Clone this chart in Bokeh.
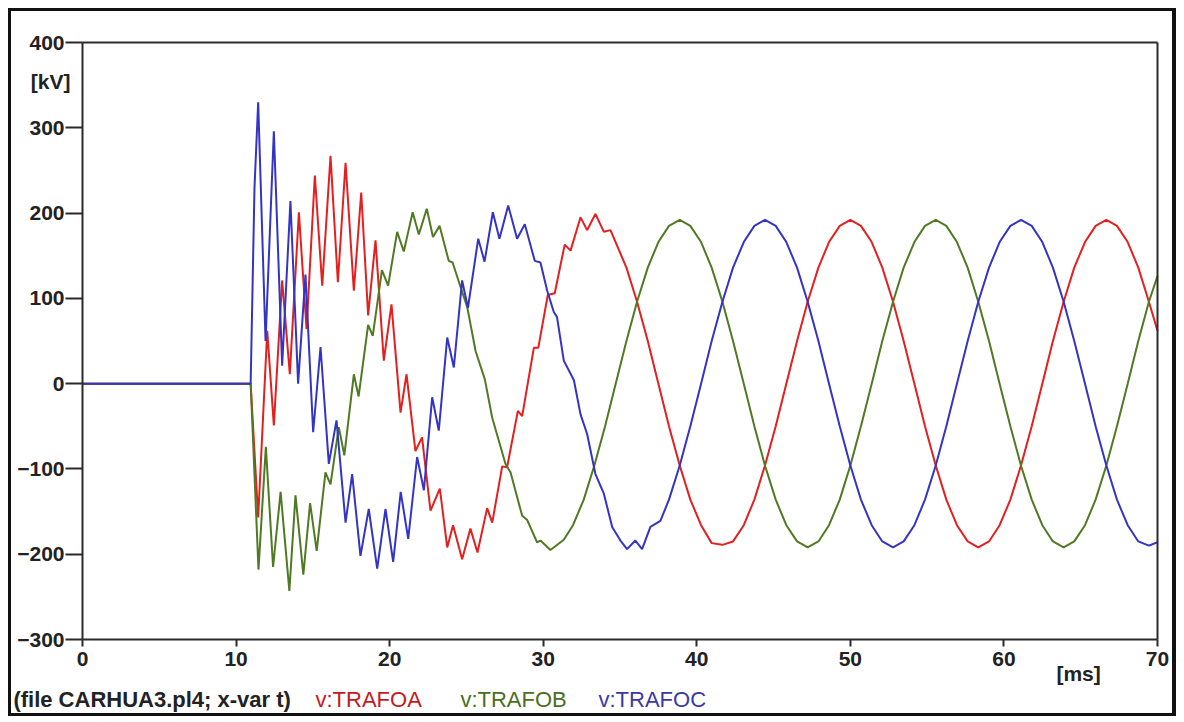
from bokeh.plotting import figure
from bokeh.models import FixedTicker, Label, LinearAxis, Range1d
from bokeh.embed import file_html
from bokeh.resources import INLINE

# ---- ATP output: phase voltages at transformer terminals, time in ms, voltage in kV ----
t_a = [0, 10.95, 11.44, 12.03, 12.46, 13.0, 13.5, 14.09, 14.59, 15.13, 15.61, 16.15, 16.63,
       17.13, 17.67, 18.15, 18.6, 19.08, 19.62, 20.12, 20.71, 21.1, 21.68, 22.11, 22.66, 23.27,
       23.75, 24.13, 24.72, 25.26, 25.72, 26.35, 26.68, 27.33, 27.65, 28.35, 28.63, 29.39, 29.68,
       30.3, 30.75, 31.4, 31.78, 32.43, 32.86, 33.4, 33.95, 34.38,
       35.42, 36.11, 36.81, 37.50, 38.19, 38.89, 39.58, 40.28, 40.97, 41.67, 42.36, 43.06, 43.75,
       44.44, 45.14, 45.83, 46.53, 47.22, 47.92, 48.61, 49.31, 50.00, 50.69, 51.39, 52.08, 52.78,
       53.47, 54.17, 54.86, 55.56, 56.25, 56.94, 57.64, 58.33, 59.03, 59.72, 60.42, 61.11, 61.81,
       62.50, 63.19, 63.89, 64.58, 65.28, 65.97, 66.67, 67.36, 68.06, 68.75, 69.44, 70.00]
v_trafoa = [0, 0, -157, 62, -49, 121, 11, 201, 64, 244, 115, 267, 119,
            259, 109, 224, 80, 168, 27, 93, -34, 11, -79, -63, -149, -123,
            -192, -166, -206, -170, -198, -146, -163, -97, -98, -32, -38, 42, 42,
            104, 106, 163, 156, 195, 180, 199, 178, 180,
            136, 96, 50, 0, -50, -96, -136, -166, -187, -189, -185, -166, -136,
            -96, -50, 0, 50, 96, 136, 166, 185, 192, 185, 166, 136, 96,
            50, 0, -50, -96, -136, -166, -185, -192, -185, -166, -136, -96, -50,
            0, 50, 96, 136, 166, 185, 192, 185, 166, 136, 96, 62]

t_b = [0, 10.95, 11.46, 11.94, 12.41, 12.9, 13.47, 13.87, 14.38, 14.82, 15.25, 15.82, 16.15,
       16.69, 17.05, 17.67, 17.98, 18.6, 18.9, 19.5, 19.9, 20.49, 20.92, 21.5, 21.9, 22.42,
       22.82, 23.25, 23.85, 24.1, 24.66, 25.05, 25.6, 26.2, 26.68, 27.54, 27.87, 28.63, 28.96,
       29.6, 29.82, 30.47, 31.34,
       31.94, 32.64, 33.33, 34.03, 34.72, 35.42, 36.11, 36.81, 37.50, 38.19, 38.89, 39.58, 40.28,
       40.97, 41.67, 42.36, 43.06, 43.75, 44.44, 45.14, 45.83, 46.53, 47.22, 47.92, 48.61, 49.31,
       50.00, 50.69, 51.39, 52.08, 52.78, 53.47, 54.17, 54.86, 55.56, 56.25, 56.94, 57.64, 58.33,
       59.03, 59.72, 60.42, 61.11, 61.81, 62.50, 63.19, 63.89, 64.58, 65.28, 65.97, 66.67, 67.36,
       68.06, 68.75, 69.44, 70.00]
v_trafob = [0, 0, -218, -74, -215, -127, -243, -131, -224, -140, -196, -104, -118,
            -51, -84, 11, -15, 69, 56, 133, 115, 178, 155, 201, 175, 205,
            172, 185, 144, 142, 111, 90, 38, 5, -40, -94, -104, -155, -160,
            -186, -184, -195, -183,
            -166, -136, -96, -50, 0, 50, 96, 136, 166, 185, 192, 185, 166,
            136, 96, 50, 0, -50, -96, -136, -166, -185, -192, -185, -166, -136,
            -96, -50, 0, 50, 96, 136, 166, 185, 192, 185, 166, 136, 96,
            50, 0, -50, -96, -136, -166, -185, -192, -185, -166, -136, -96, -50,
            0, 50, 96, 126]

t_c = [0, 10.95, 11.2, 11.44, 11.92, 12.46, 13.0, 13.54, 14.04, 14.52, 15.02, 15.5, 16.04,
       16.54, 17.13, 17.56, 18.1, 18.64, 19.19, 19.73, 20.23, 20.72, 21.21, 21.79, 22.23, 22.77,
       23.2, 23.75, 24.18, 24.72, 25.1, 25.77, 26.18, 26.72, 27.15, 27.72, 28.3, 28.8, 29.45,
       29.82, 30.26, 30.69, 30.9, 31.34, 32.0, 32.43, 32.86, 33.4, 33.95, 34.49, 35.03, 35.46,
       36.0, 36.44, 36.98, 37.63,
       38.19, 38.89, 39.58, 40.28, 40.97, 41.67, 42.36, 43.06, 43.75, 44.44, 45.14, 45.83, 46.53,
       47.22, 47.92, 48.61, 49.31, 50.00, 50.69, 51.39, 52.08, 52.78, 53.47, 54.17, 54.86, 55.56,
       56.25, 56.94, 57.64, 58.33, 59.03, 59.72, 60.42, 61.11, 61.81, 62.50, 63.19, 63.89, 64.58,
       65.28, 65.97, 66.67, 67.36, 68.06, 68.75, 69.44, 70.00]
v_trafoc = [0, 0, 230, 330, 50, 296, 21, 214, 0, 128, -57, 43, -94,
            -43, -163, -106, -202, -147, -217, -147, -209, -127, -182, -86, -125, -16,
            -55, 54, 19, 121, 89, 170, 143, 201, 170, 209, 170, 187, 144,
            142, 109, 84, 78, 27, 4, -36, -59, -106, -129, -168, -184, -194,
            -184, -194, -168, -161,
            -136, -96, -50, 0, 50, 96, 136, 166, 185, 192, 185, 166, 136,
            96, 50, 0, -50, -96, -136, -166, -185, -192, -185, -166, -136, -96,
            -50, 0, 50, 96, 136, 166, 185, 192, 185, 166, 136, 96, 50,
            0, -50, -96, -136, -166, -185, -190, -186]

x_ticks = [0, 10, 20, 30, 40, 50, 60, 70]
y_ticks = [-300, -200, -100, 0, 100, 200, 300, 400]
x_lim = (0, 70)
y_lim = (-300, 400)

RED = "#e3201f"
GREEN = "#4f7a22"
BLUE = "#3434c4"
INK = "#2b2b2b"
TXT = "#222222"
FONT = "Liberation Sans"

# The frame fills the whole bordered sheet; the plot box itself is drawn by
# axes pinned at the data limits (fixed_location), so margin texts stay visible.
p = figure(width=1168, height=708,
           x_range=Range1d(-4.623, 71.433), y_range=Range1d(-393.8, 436.35),
           output_backend="svg", toolbar_location=None,
           min_border_left=0, min_border_right=0, min_border_top=0, min_border_bottom=0)
p.styles = {"margin": "8px 0 0 8px", "border": "3px solid #111111",
            "border-right-width": "4px"}
p.background_fill_color = "white"
p.border_fill_color = "white"
p.outline_line_color = None
p.xgrid.visible = False
p.ygrid.visible = False

xa = p.xaxis[0]
ya = p.yaxis[0]
xa.fixed_location = y_lim[0]
ya.fixed_location = x_lim[0]
xa.bounds = x_lim
ya.bounds = y_lim
xa.ticker = FixedTicker(ticks=x_ticks)
ya.ticker = FixedTicker(ticks=y_ticks)

top = LinearAxis(fixed_location=y_lim[1], bounds=x_lim, ticker=FixedTicker(ticks=[]),
                 major_label_text_font_size="0px")
right = LinearAxis(fixed_location=x_lim[1], bounds=y_lim, ticker=FixedTicker(ticks=[]),
                   major_label_text_font_size="0px")
p.add_layout(top, "above")
p.add_layout(right, "right")

for ax in (xa, ya, top, right):
    ax.axis_line_color = INK
    ax.axis_line_width = 2
    ax.major_tick_line_color = INK
    ax.major_tick_line_width = 2
    ax.major_tick_in = 0
    ax.minor_tick_line_color = None
    ax.major_label_text_font = FONT
    ax.major_label_text_font_style = "bold"
    ax.major_label_text_color = TXT

xa.major_tick_out = 7
xa.major_label_standoff = 5
xa.major_label_text_font_size = "21px"
ya.major_tick_out = 17
ya.major_label_standoff = 1
ya.major_label_text_font_size = "21px"

p.line(t_a, v_trafoa, line_color=RED, line_width=2)
p.line(t_b, v_trafob, line_color=GREEN, line_width=2)
p.line(t_c, v_trafoc, line_color=BLUE, line_width=2)

# unit captions
p.add_layout(Label(x=-2.08, y=354, text="[kV]", text_font=FONT, text_font_style="bold",
                   text_font_size="21px", text_color=TXT,
                   text_align="center", text_baseline="middle"))
p.add_layout(Label(x=64.86, y=-340, text="[ms]", text_font=FONT, text_font_style="bold",
                   text_font_size="21px", text_color=TXT,
                   text_align="center", text_baseline="middle"))

# footer line: file name and the plotted variables
footer = [(-4.50, "(file CARHUA3.pl4; x-var t)", TXT, "bold", "22px"),
          (15.17, "v:TRAFOA", "#c41a1e", "normal", "22px"),
          (24.61, "v:TRAFOB", "#4a6f22", "normal", "22px"),
          (33.60, "v:TRAFOC", "#3a38a8", "normal", "22px")]
for xpos, txt, col, style, size in footer:
    p.add_layout(Label(x=xpos, y=-370, text=txt, text_font=FONT, text_font_style=style,
                       text_font_size=size, text_color=col,
                       text_align="left", text_baseline="middle"))

open("out.html", "w").write(file_html(p, INLINE))
